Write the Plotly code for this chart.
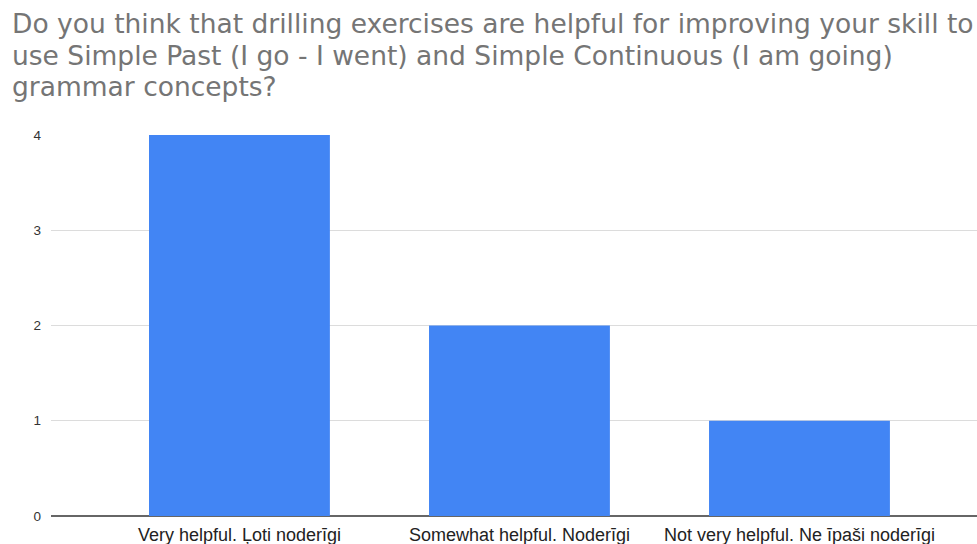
import plotly.graph_objects as go

title_lines = [
    "Do you think that drilling exercises are helpful for improving your skill to",
    "use Simple Past (I go - I went) and Simple Continuous (I am going)",
    "grammar concepts?",
]
categories = ["Very helpful. Ļoti noderīgi", "Somewhat helpful. Noderīgi", "Not very helpful. Ne īpaši noderīgi"]
counts = [4, 2, 1]
y_ticks = [0, 1, 2, 3, 4]

PLOT_L, PLOT_W, PLOT_T, PLOT_H = 51, 926, 135, 381

fig = go.Figure()
fig.add_trace(go.Bar(
    x=[0, 1, 2], y=counts, width=0.646,
    marker=dict(color="#4285F4", line=dict(width=0)),
    hoverinfo="skip",
))

annotations = []
title_centers = [23.5, 55.0, 86.5]
for line, cy in zip(title_lines, title_centers):
    annotations.append(dict(
        text=line, xref="paper", yref="paper",
        x=(10 - PLOT_L) / PLOT_W, y=(PLOT_T + PLOT_H - cy) / PLOT_H,
        xanchor="left", yanchor="middle", showarrow=False,
        font=dict(family="DejaVu Sans", size=26.5, color="#757575"),
    ))

fig.update_layout(
    width=977, height=544,
    margin=dict(l=PLOT_L, r=977 - PLOT_L - PLOT_W, t=PLOT_T, b=544 - PLOT_T - PLOT_H, pad=0),
    paper_bgcolor="white", plot_bgcolor="white",
    showlegend=False,
    annotations=annotations,
    xaxis=dict(
        range=[-0.673, 2.634], tickmode="array", tickvals=[0, 1, 2], ticktext=categories,
        showgrid=False, zeroline=False, showline=False, ticks="", automargin=False,
        ticklabelstandoff=6,
        tickfont=dict(family="Liberation Sans, Arial", size=18, color="#222222"),
    ),
    yaxis=dict(
        range=[0, 4], tickmode="array", tickvals=y_ticks, ticktext=[str(v) for v in y_ticks],
        showgrid=True, gridcolor="#dcdcdc", gridwidth=1,
        zeroline=True, zerolinecolor="#666666", zerolinewidth=2,
        showline=False, ticks="", ticklabelstandoff=9, automargin=False,
        tickfont=dict(family="Liberation Sans, Arial", size=13.5, color="#333333"),
    ),
)

fig.write_html("out.html", config={"displayModeBar": False},
               post_script="document.body.style.margin='0px';")
